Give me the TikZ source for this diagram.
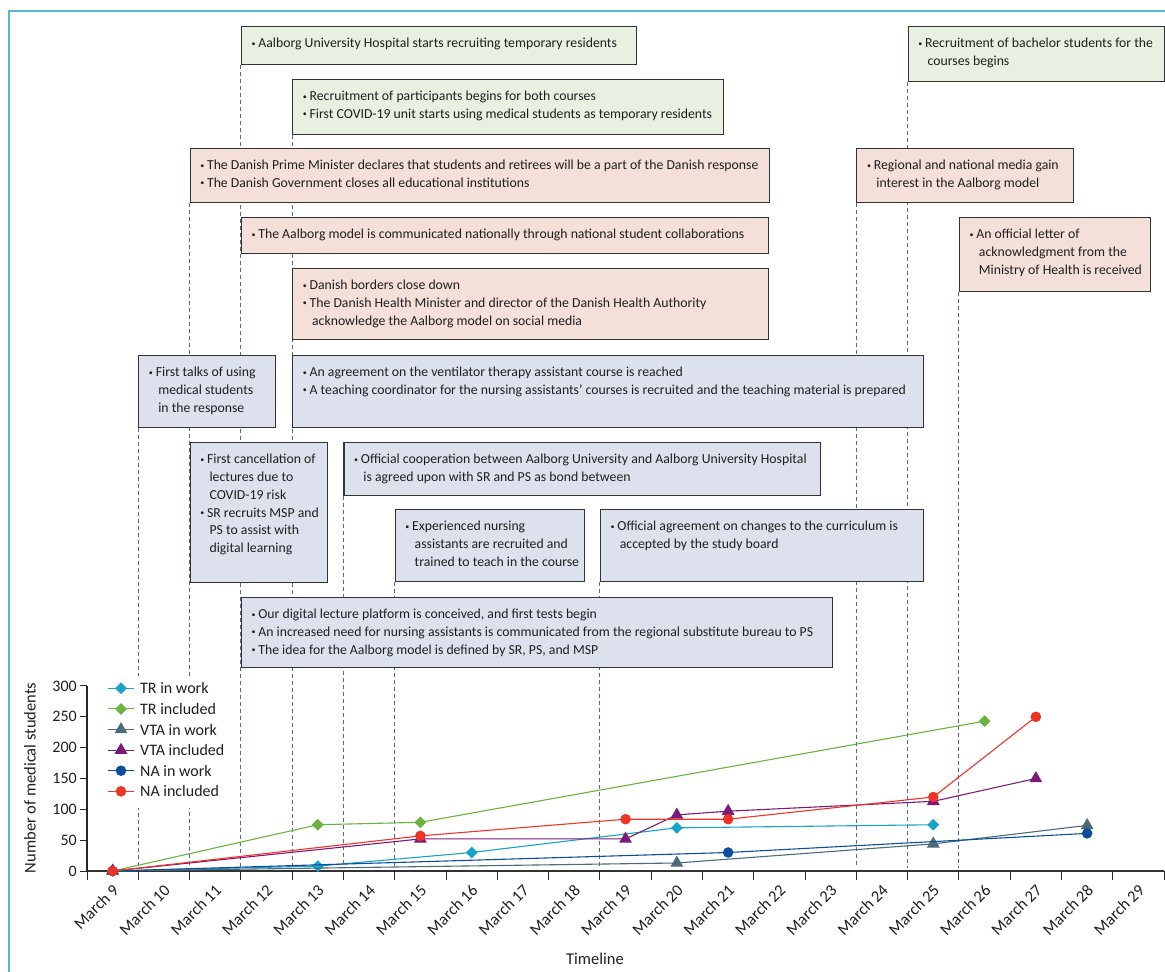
\documentclass[tikz,border=0pt]{standalone}
\usepackage{fontspec}
\setmainfont{Carlito}
\usetikzlibrary{plotmarks}
\pgfdeclarelayer{bg}
\pgfsetlayers{bg,main}
\definecolor{framec}{HTML}{5AB4D6}
\definecolor{boxgreen}{HTML}{E8F0E2}
\definecolor{boxpink}{HTML}{F4DFD9}
\definecolor{boxlav}{HTML}{DDE1EE}
\definecolor{boxline}{HTML}{333333}
\definecolor{dashc}{HTML}{4F6B80}
\definecolor{axisc}{HTML}{333333}
\definecolor{cTRw}{HTML}{18A3C9}
\definecolor{cTRi}{HTML}{6BB23E}
\definecolor{cVTw}{HTML}{4D6A78}
\definecolor{cVTi}{HTML}{7C1A7A}
\definecolor{cNAw}{HTML}{0B4E9D}
\definecolor{cNAi}{HTML}{EE3427}
\newcommand\bl{\rule{0pt}{11.5pt}\makebox[6.8pt][l]{\raisebox{0.25ex}{\fontsize{8}{8}\selectfont\textbullet}}}
\newcommand\ci{\rule{0pt}{11.5pt}\makebox[9.3pt]{}}
\newcommand\evt[7]{%
  \pgfmathsetmacro\evw{#4-#2}\pgfmathsetmacro\evh{#5-#3}%
  \node[evbox, fill=#6, minimum width=\evw pt, minimum height=\evh pt] (#1) at (#2,#3) {};
  \node[evtext] (#1t) at ([xshift=10.5pt, yshift=-10pt]#1.north west) {#7};
}
\begin{document}
\begin{tikzpicture}[x=1pt,y=-1pt,
  evbox/.style={draw=boxline, line width=1.1pt, inner sep=0pt, anchor=north west},
  evtext/.style={anchor=north west, inner sep=0pt, align=left, font=\fontsize{13.75}{17.8}\selectfont, text=black!88},
  vdash/.style={draw=dashc, line width=0.9pt, dash pattern=on 4pt off 3pt},
  series/.style={line width=1.1pt},
  sTRw/.style={color=cTRw, mark=square*, mark size=3.6pt, mark options={rotate=45}},
  sTRi/.style={color=cTRi, mark=square*, mark size=3.6pt, mark options={rotate=45}},
  sVTw/.style={color=cVTw, mark=triangle*, mark size=6.3pt},
  sVTi/.style={color=cVTi, mark=triangle*, mark size=6.3pt},
  sNAw/.style={color=cNAw, mark=*, mark size=4.7pt},
  sNAi/.style={color=cNAi, mark=*, mark size=4.7pt},
  legtext/.style={anchor=west, inner sep=0pt, font=\fontsize{16}{18}\selectfont, text=black!88},
  ticklab/.style={inner sep=0pt, font=\fontsize{16}{18}\selectfont, text=black!88},
  datelab/.style={inner sep=0pt, font=\fontsize{16.5}{18}\selectfont, text=black!88, rotate=45, anchor=north east},
  axtitle/.style={inner sep=0pt, font=\fontsize{16.5}{19}\selectfont, text=black!88}
]
\useasboundingbox (0,0) rectangle (1165,972);

% event boxes
\evt{A}{240.87}{26}{636}{64}{boxgreen}{\bl Aalborg University Hospital starts recruiting temporary residents}
\evt{B}{292.16}{79}{723}{134}{boxgreen}{\bl Recruitment of participants begins for both courses\\\bl First COVID-19 unit starts using medical students as temporary residents}
\evt{C}{189.58}{148}{769}{202}{boxpink}{\bl The Danish Prime Minister declares that students and retirees will be a part of the Danish response\\\bl The Danish Government closes all educational institutions}
\evt{D}{240.87}{217}{768}{253}{boxpink}{\bl The Aalborg model is communicated nationally through national student collaborations}
\evt{E}{292.16}{268}{768}{339}{boxpink}{\bl Danish borders close down\\\bl The Danish Health Minister and director of the Danish Health Authority\\\ci acknowledge the Aalborg model on social media}
\evt{F}{907.64}{26}{1164}{81}{boxgreen}{\bl Recruitment of bachelor students for the\\\ci courses begins}
\evt{G}{856.35}{148}{1073}{202}{boxpink}{\bl Regional and national media gain\\\ci interest in the Aalborg model}
\evt{H}{958.93}{217}{1150}{291}{boxpink}{\bl An official letter of\\\ci acknowledgment from the\\\ci Ministry of Health is received}
\evt{I}{138.29}{355}{275}{427}{boxlav}{\bl First talks of using\\\ci medical students\\\ci in the response}
\evt{J}{292.16}{355}{923}{427}{boxlav}{\bl An agreement on the ventilator therapy assistant course is reached\\\bl A teaching coordinator for the nursing assistants' courses is recruited and the teaching material is prepared}
\evt{K}{189.58}{442}{327}{582}{boxlav}{\bl First cancellation of\\\ci lectures due to\\\ci COVID-19 risk\\\bl SR recruits MSP and\\\ci PS to assist with\\\ci digital learning}
\evt{L}{343.45}{442}{820}{495}{boxlav}{\bl Official cooperation between Aalborg University and Aalborg University Hospital\\\ci is agreed upon with SR and PS as bond between}
\evt{M}{394.74}{509}{584}{581}{boxlav}{\bl Experienced nursing\\\ci assistants are recruited and\\\ci trained to teach in the course}
\evt{N}{599.9}{509}{923}{581}{boxlav}{\bl Official agreement on changes to the curriculum is\\\ci accepted by the study board}
\evt{O}{240.87}{597}{832}{667}{boxlav}{\bl Our digital lecture platform is conceived, and first tests begin\\\bl An increased need for nursing assistants is communicated from the regional substitute bureau to PS\\\bl The idea for the Aalborg model is defined by SR, PS, and MSP}

\coordinate (axl) at (87,868);

\begin{pgfonlayer}{bg}
  \draw[framec, line width=1.3pt] (9,972) -- (9,11) -- (1165,11);
  \foreach \b in {A,B,C,F,G,H,I,L,M,N}
    \draw[vdash] (\b.south west) -- (\b.south west |- axl);
\end{pgfonlayer}

% legend
\node[fill=white, inner sep=0pt, minimum width=132pt, minimum height=132pt, anchor=north west] (legend) at (100,676) {};
\draw[series, sTRw, mark indices={2}] plot coordinates {(108,688.3) (121,688.3) (134,688.3)};
\node[legtext] (lg1) at (140,688.3) {TR in work};
\draw[series, sTRi, mark indices={2}] plot coordinates {(108,708.9) (121,708.9) (134,708.9)};
\node[legtext] (lg2) at (140,708.9) {TR included};
\draw[series, sVTw, mark indices={2}] plot coordinates {(108,729.5) (121,729.5) (134,729.5)};
\node[legtext] (lg3) at (140,729.5) {VTA in work};
\draw[series, sVTi, mark indices={2}] plot coordinates {(108,750.1) (121,750.1) (134,750.1)};
\node[legtext] (lg4) at (140,750.1) {VTA included};
\draw[series, sNAw, mark indices={2}] plot coordinates {(108,770.7) (121,770.7) (134,770.7)};
\node[legtext] (lg5) at (140,770.7) {NA in work};
\draw[series, sNAi, mark indices={2}] plot coordinates {(108,791.3) (121,791.3) (134,791.3)};
\node[legtext] (lg6) at (140,791.3) {NA included};

% axes
\draw[axisc, line width=1.3pt] (87,871) -- (1164.1,871);
\foreach \k in {0,...,21}
  \draw[black!85, line width=1pt] ({87+51.29*\k},871) -- ({87+51.29*\k},880);
\draw[black!85, line width=1.2pt] (87,686) -- (87,871);
\foreach \v in {0,50,...,300} {
  \draw[black!85, line width=1pt] (80,{871-0.6167*\v}) -- (87,{871-0.6167*\v});
  \node[ticklab, anchor=east] (yl\v) at (77,{871-0.6167*\v}) {\v};
}
\foreach \d [count=\i from 0] in {9,...,29}
  \node[datelab] (dl\d) at ({87+51.29*(\i+0.5)-1},883) {March \d};
\node[axtitle, rotate=90] (ytitle) at (30,778) {Number of medical students};
\node[axtitle] (xtitle) at (595,959) {Timeline};

% data
\begin{scope}[shift={(112.645,871)}, x=51.29pt, y=0.6167pt]
  \draw[series, sTRw] plot coordinates {(0,0) (4,8) (7,30) (11,70) (16,75)};
  \draw[series, sTRi] plot coordinates {(0,0) (4,75) (6,79) (17,243)};
  \draw[series, sVTw] plot coordinates {(0,0) (11,13) (16,44) (19,74)};
  \draw[series, sVTi] plot coordinates {(0,0) (6,52) (10,52) (11,91) (12,97) (16,113) (18,150)};
  \draw[series, sNAw] plot coordinates {(0,0) (12,30) (19,61)};
  \draw[series, sNAi] plot coordinates {(0,0) (6,57) (10,84) (12,84) (16,120) (18,250)};
\end{scope}
\end{tikzpicture}
\end{document}
